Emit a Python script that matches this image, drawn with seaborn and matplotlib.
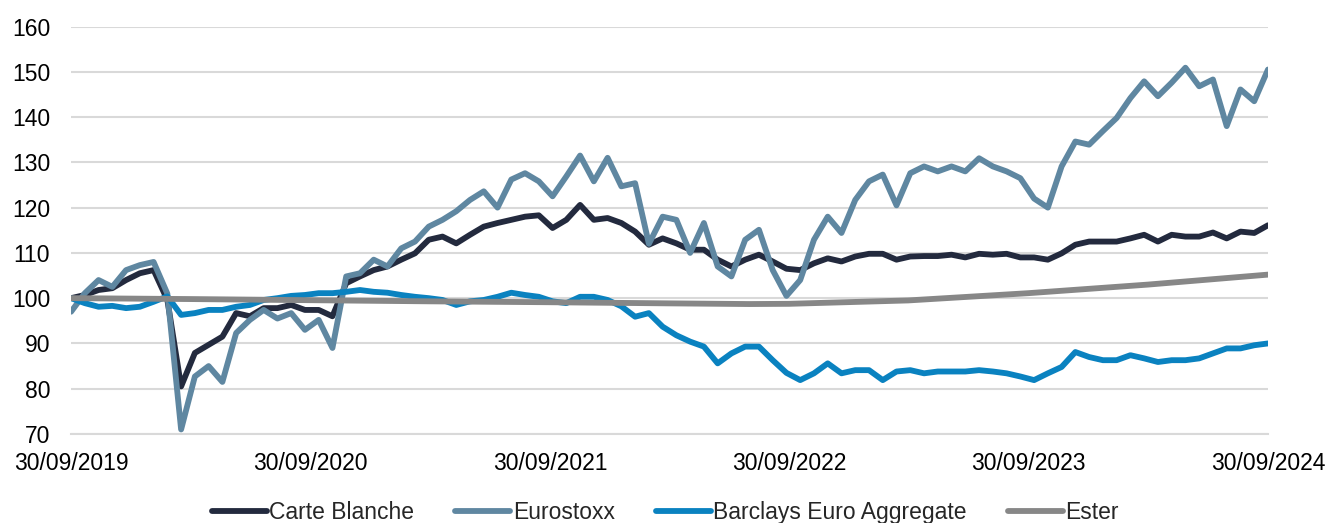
import pandas as pd
import numpy as np
import seaborn as sns
import matplotlib.pyplot as plt
import matplotlib.dates as mdates

# grille de dates : un point toutes les 3 semaines
dates = pd.date_range("2019-09-30", "2024-09-30", periods=88)

carte_blanche = [100, 100.7, 101.8, 102.2, 104, 105.5, 106.2, 99.6, 80.5, 87.9,
                 89.7, 91.5, 96.7, 96, 97.8, 97.8, 98.5, 97.4, 97.4, 96,
                 103.3, 104.8, 106.2, 107, 108.5, 109.9, 112.9, 113.6, 112.1, 114,
                 115.8, 116.6, 117.3, 118, 118.3, 115.5, 117.3, 120.6, 117.3, 117.7,
                 116.6, 114.7, 111.8, 113.2, 112.1, 110.7, 110.7, 108.5, 107, 108.5,
                 109.6, 108.1, 106.5, 106.2, 107.7, 108.8, 108.1, 109.2, 109.8, 109.8,
                 108.5, 109.2, 109.3, 109.3, 109.6, 109, 109.8, 109.6, 109.8, 109,
                 109, 108.5, 109.9, 111.8, 112.5, 112.5, 112.5, 113.2, 114, 112.5,
                 114, 113.6, 113.6, 114.5, 113.2, 114.7, 114.4, 116.1]

eurostoxx = [97, 101.1, 104, 102.5, 106.2, 107.3, 108, 101, 71, 82.7,
             85, 81.5, 92.3, 95.2, 97.4, 95.5, 96.7, 93, 95.2, 89,
             104.8, 105.5, 108.5, 107, 111, 112.5, 115.8, 117.3, 119.2, 121.7,
             123.6, 120, 126.2, 127.6, 125.8, 122.5, 126.9, 131.5, 125.8, 131,
             124.7, 125.4, 112, 118, 117.3, 110, 116.6, 107, 104.8, 112.9,
             115.1, 106.2, 100.5, 104, 112.9, 118, 114.4, 121.7, 125.8, 127.3,
             120.5, 127.6, 129.1, 128, 129.1, 128, 130.9, 129.1, 128, 126.5,
             122, 120, 129.1, 134.6, 133.9, 136.9, 139.8, 144.2, 147.9, 144.6,
             147.6, 150.9, 146.8, 148.3, 138, 146.1, 143.5, 150.5]

barclays = [100, 98.9, 98.1, 98.3, 97.8, 98.1, 99.2, 100.4, 96.3, 96.7,
            97.4, 97.4, 98.1, 98.5, 99.6, 100, 100.5, 100.7, 101.1, 101.1,
            101.4, 101.8, 101.4, 101.2, 100.7, 100.3, 100, 99.6, 98.5, 99.3,
            99.6, 100.3, 101.2, 100.7, 100.3, 99.3, 98.9, 100.3, 100.3, 99.6,
            98.2, 95.9, 96.7, 93.7, 91.8, 90.4, 89.3, 85.6, 87.8, 89.3,
            89.3, 86.3, 83.5, 81.9, 83.4, 85.6, 83.4, 84.1, 84.1, 81.9,
            83.8, 84.1, 83.4, 83.8, 83.8, 83.8, 84.1, 83.8, 83.4, 82.7,
            81.9, 83.4, 84.8, 88.1, 87, 86.3, 86.3, 87.4, 86.7, 85.9,
            86.3, 86.3, 86.7, 87.8, 88.9, 88.9, 89.6, 90]

ester_dates = pd.to_datetime(["2019-09-30", "2020-03-31", "2020-09-30", "2021-03-31",
                              "2021-09-30", "2022-03-31", "2022-07-31", "2022-09-30",
                              "2023-03-31", "2023-09-30", "2024-03-31", "2024-09-30"])
ester = [100, 99.8, 99.55, 99.3, 99.1, 98.85, 98.7, 98.75, 99.5, 101.1, 103.0, 105.2]

noms = ["Carte Blanche", "Eurostoxx", "Barclays Euro Aggregate", "Ester"]
couleurs = {"Carte Blanche": "#232a3e", "Eurostoxx": "#5f87a1",
            "Barclays Euro Aggregate": "#0a82c0", "Ester": "#878787"}

df = pd.concat([
    pd.DataFrame({"date": dates, "valeur": carte_blanche, "serie": noms[0]}),
    pd.DataFrame({"date": dates, "valeur": eurostoxx, "serie": noms[1]}),
    pd.DataFrame({"date": dates, "valeur": barclays, "serie": noms[2]}),
    pd.DataFrame({"date": ester_dates, "valeur": ester, "serie": noms[3]}),
])

sns.set_style("white")
plt.rcParams["font.family"] = ["Liberation Sans", "DejaVu Sans"]

fig = plt.figure(figsize=(13.28, 5.23), dpi=100)
ax = fig.add_axes([0.0535, 0.1702, 0.9013, 0.7791])

sns.lineplot(data=df, x="date", y="valeur", hue="serie", hue_order=noms,
             palette=couleurs, linewidth=4.2, estimator=None, ax=ax)

ax.set_ylim(70, 160)
ax.set_yticks(range(70, 161, 10))
ax.set_xlim(pd.Timestamp("2019-09-30"), pd.Timestamp("2024-09-30"))
ticks = pd.to_datetime(["2019-09-30", "2020-09-30", "2021-09-30",
                        "2022-09-30", "2023-09-30", "2024-09-30"])
ax.set_xticks(ticks)
ax.xaxis.set_major_formatter(mdates.DateFormatter("%d/%m/%Y"))
ax.set_xlabel("")
ax.set_ylabel("")

ax.grid(axis="y", color="#d9d9d9", linewidth=1.5)
ax.grid(axis="x", visible=False)
for s in ["top", "right", "left"]:
    ax.spines[s].set_visible(False)
ax.spines["bottom"].set_color("#d9d9d9")
ax.spines["bottom"].set_linewidth(1.5)
ax.tick_params(axis="x", colors="#d9d9d9", length=6, width=1.5, direction="out",
               labelcolor="black", labelsize=16.5, pad=7)
ax.tick_params(axis="y", length=0, labelsize=16.5, pad=15, labelcolor="black")

ax.get_legend().remove()
handles, labels = ax.get_legend_handles_labels()
fig.legend(handles, labels, loc="center", bbox_to_anchor=(0.501, 0.02), ncol=4,
           frameon=False, fontsize=16.5, handlelength=2.4, handletextpad=0.1,
           columnspacing=1.8)

fig.savefig("out.png", dpi=100)
